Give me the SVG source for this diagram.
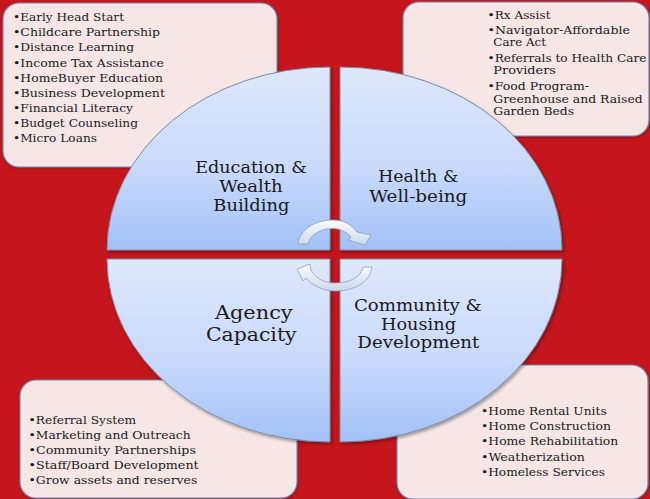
<svg xmlns="http://www.w3.org/2000/svg" width="650" height="499" viewBox="0 0 650 499">
<defs>
<linearGradient id="gTop" x1="0" y1="0" x2="0" y2="1">
<stop offset="0" stop-color="#DEE8FC"/><stop offset="0.55" stop-color="#C9DAFB"/><stop offset="1" stop-color="#A2C1F7"/>
</linearGradient>
<linearGradient id="gArrow" x1="0" y1="0" x2="0" y2="1">
<stop offset="0" stop-color="#FBFCFF"/><stop offset="1" stop-color="#CCD8EC"/>
</linearGradient>
<filter id="sh" x="-10%" y="-10%" width="120%" height="120%">
<feDropShadow dx="1.5" dy="2" stdDeviation="1.5" flood-color="#000" flood-opacity="0.35"/>
</filter>
<filter id="bsh" x="-5%" y="-5%" width="110%" height="110%">
<feDropShadow dx="0.5" dy="1" stdDeviation="1" flood-color="#000" flood-opacity="0.3"/>
</filter>
</defs>
<style>
.box{fill:#F6E6E6;stroke:#6F87B2;stroke-width:1.2;filter:url(#bsh)}
.q{fill:url(#gTop);stroke:#7D8CA6;stroke-width:1;filter:url(#sh)}
.t{font-family:"DejaVu Serif","Liberation Serif",serif;font-size:10.5px;fill:#1A1A1A}
.h{font-family:"DejaVu Serif","Liberation Serif",serif;font-size:17px;fill:#1A1A1A;text-anchor:middle}
.h2{font-family:"DejaVu Serif","Liberation Serif",serif;font-size:18.5px;fill:#1A1A1A;text-anchor:middle}
.arr{fill:url(#gArrow);stroke:#8E9EBE;stroke-width:0.8}
</style>
<rect x="0" y="0" width="650" height="499" fill="#C4161C"/>

<g id="box-education">
<rect class="box" x="3" y="3" width="274" height="164" rx="16"/>
<text class="t" x="13" y="21" textLength="111" lengthAdjust="spacingAndGlyphs">•Early Head Start</text>
<text class="t" x="13" y="36" textLength="147" lengthAdjust="spacingAndGlyphs">•Childcare Partnership</text>
<text class="t" x="13" y="51.3" textLength="121" lengthAdjust="spacingAndGlyphs">•Distance Learning</text>
<text class="t" x="13" y="66.5" textLength="151" lengthAdjust="spacingAndGlyphs">•Income Tax Assistance</text>
<text class="t" x="13" y="81.7" textLength="150" lengthAdjust="spacingAndGlyphs">•HomeBuyer Education</text>
<text class="t" x="13" y="96.8" textLength="152" lengthAdjust="spacingAndGlyphs">•Business Development</text>
<text class="t" x="13" y="112" textLength="120" lengthAdjust="spacingAndGlyphs">•Financial Literacy</text>
<text class="t" x="13" y="127.2" textLength="125" lengthAdjust="spacingAndGlyphs">•Budget Counseling</text>
<text class="t" x="13" y="142.4" textLength="84" lengthAdjust="spacingAndGlyphs">•Micro Loans</text>
</g>

<g id="box-health">
<rect class="box" x="403" y="2" width="246" height="134" rx="16"/>
<text class="t" x="487.5" y="18.5" textLength="63" lengthAdjust="spacingAndGlyphs">•Rx Assist</text>
<text class="t" x="487.5" y="33.5" textLength="142.5" lengthAdjust="spacingAndGlyphs">•Navigator-Affordable</text>
<text class="t" x="493.3" y="46.2" textLength="52.7" lengthAdjust="spacingAndGlyphs">Care Act</text>
<text class="t" x="487.5" y="61.8" textLength="159" lengthAdjust="spacingAndGlyphs">•Referrals to Health Care</text>
<text class="t" x="493.3" y="74.3" textLength="62.7" lengthAdjust="spacingAndGlyphs">Providers</text>
<text class="t" x="487.5" y="90" textLength="101.5" lengthAdjust="spacingAndGlyphs">•Food Program-</text>
<text class="t" x="493.3" y="102.7" textLength="149.4" lengthAdjust="spacingAndGlyphs">Greenhouse and Raised</text>
<text class="t" x="493.3" y="115.3" textLength="80.7" lengthAdjust="spacingAndGlyphs">Garden Beds</text>
</g>

<g id="box-agency">
<rect class="box" x="20" y="380" width="277" height="118" rx="16"/>
<text class="t" x="28.5" y="424" textLength="107.5" lengthAdjust="spacingAndGlyphs">•Referral System</text>
<text class="t" x="28.5" y="439" textLength="162.2" lengthAdjust="spacingAndGlyphs">•Marketing and Outreach</text>
<text class="t" x="28.5" y="454" textLength="167.5" lengthAdjust="spacingAndGlyphs">•Community Partnerships</text>
<text class="t" x="28.5" y="469" textLength="170.2" lengthAdjust="spacingAndGlyphs">•Staff/Board Development</text>
<text class="t" x="28.5" y="483.5" textLength="168.8" lengthAdjust="spacingAndGlyphs">•Grow assets and reserves</text>
</g>

<g id="box-community">
<rect class="box" x="397" y="365" width="251" height="134" rx="16"/>
<text class="t" x="481" y="415.2" textLength="125.7" lengthAdjust="spacingAndGlyphs">•Home Rental Units</text>
<text class="t" x="481" y="430.2" textLength="130" lengthAdjust="spacingAndGlyphs">•Home Construction</text>
<text class="t" x="481" y="445.2" textLength="137.3" lengthAdjust="spacingAndGlyphs">•Home Rehabilitation</text>
<text class="t" x="481" y="460.7" textLength="104" lengthAdjust="spacingAndGlyphs">•Weatherization</text>
<text class="t" x="481" y="475.7" textLength="124" lengthAdjust="spacingAndGlyphs">•Homeless Services</text>
</g>

<g id="q-education">
<path class="q" d="M330,250 L107,250 A223,183 0 0 1 330,67 Z"/>
<text class="h" x="251" y="172.7" textLength="111.7" lengthAdjust="spacingAndGlyphs">Education &amp;</text>
<text class="h" x="251" y="191.7" textLength="63.3" lengthAdjust="spacingAndGlyphs">Wealth</text>
<text class="h" x="251.3" y="210.7" textLength="76" lengthAdjust="spacingAndGlyphs">Building</text>
</g>

<g id="q-health">
<path class="q" d="M340,250 L340,67 A222,183 0 0 1 562,250 Z"/>
<text class="h" x="418.3" y="182.3" textLength="80" lengthAdjust="spacingAndGlyphs">Health &amp;</text>
<text class="h" x="418.3" y="201.7" textLength="98" lengthAdjust="spacingAndGlyphs">Well-being</text>
</g>

<g id="q-agency">
<path class="q" d="M330,259 L330,442 A223,183 0 0 1 107,259 Z"/>
<text class="h2" x="253.8" y="319" textLength="77.7" lengthAdjust="spacingAndGlyphs">Agency</text>
<text class="h2" x="251.3" y="341" textLength="90.7" lengthAdjust="spacingAndGlyphs">Capacity</text>
</g>

<g id="q-community">
<path class="q" d="M340,259 L562,259 A222,183 0 0 1 340,442 Z"/>
<text class="h" x="417.8" y="310.7" textLength="127.7" lengthAdjust="spacingAndGlyphs">Community &amp;</text>
<text class="h" x="418.5" y="330" textLength="75" lengthAdjust="spacingAndGlyphs">Housing</text>
<text class="h" x="418.3" y="348.3" textLength="122" lengthAdjust="spacingAndGlyphs">Development</text>
</g>

<g id="connectors">
<path class="arr" d="M298,244 C300,228 317,220 333,220 C344,220 352,225 357,232 L371,235 L365,245 L348,240 L351,237 C346,232 340,228.5 333,228.5 C320,228.5 310,235 308,244 Z"/>
<path class="arr" d="M372,267 C370,283 353,291 335,291 C322,291 312,285 306,278 L303,281 L297,269 L310,264 L311,270 C316,279 325,283 335,283 C350,283 361,277 363,267 Z"/>
</g>
</svg>
